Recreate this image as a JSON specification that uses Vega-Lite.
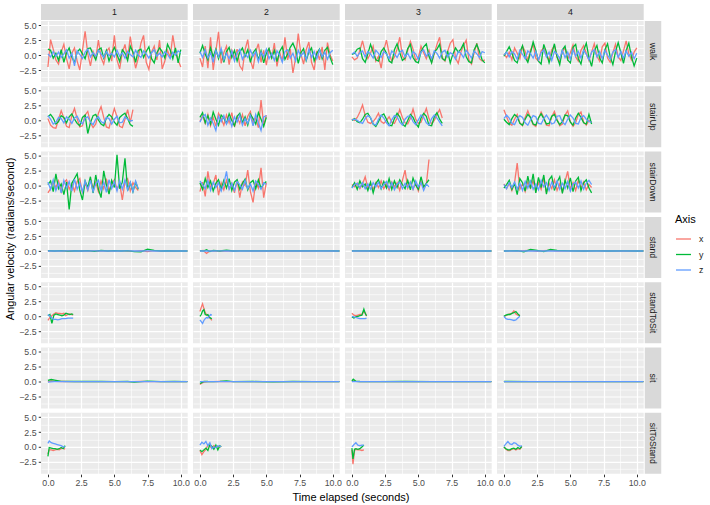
{
  "$schema": "https://vega.github.io/schema/vega-lite/v6.json",
  "padding": {"left": 4, "top": 4, "right": 8, "bottom": 5},
  "bounds": "flush",
  "data": {
    "values": [
      {"act":"walk","run":1,"t":0.0,"x":-2.0,"y":1.0,"z":0.2},
      {"act":"walk","run":1,"t":0.2,"x":2.6,"y":0.8,"z":-0.3},
      {"act":"walk","run":1,"t":0.4,"x":1.0,"y":-0.5,"z":0.6},
      {"act":"walk","run":1,"t":0.6,"x":-0.8,"y":0.3,"z":-0.2},
      {"act":"walk","run":1,"t":0.8,"x":-1.5,"y":-0.9,"z":0.5},
      {"act":"walk","run":1,"t":1.0,"x":0.5,"y":0.9,"z":-0.4},
      {"act":"walk","run":1,"t":1.2,"x":1.8,"y":-1.2,"z":0.2},
      {"act":"walk","run":1,"t":1.4,"x":-0.6,"y":0.4,"z":0.9},
      {"act":"walk","run":1,"t":1.6,"x":-2.3,"y":1.2,"z":-0.5},
      {"act":"walk","run":1,"t":1.8,"x":0.3,"y":-0.3,"z":0.3},
      {"act":"walk","run":1,"t":2.0,"x":1.2,"y":-1.3,"z":-1.8},
      {"act":"walk","run":1,"t":2.2,"x":-1.0,"y":0.5,"z":0.7},
      {"act":"walk","run":1,"t":2.4,"x":-2.5,"y":1.0,"z":0.1},
      {"act":"walk","run":1,"t":2.6,"x":0.8,"y":0.2,"z":-0.6},
      {"act":"walk","run":1,"t":2.8,"x":4.0,"y":-0.6,"z":0.5},
      {"act":"walk","run":1,"t":3.0,"x":0.2,"y":1.1,"z":1.0},
      {"act":"walk","run":1,"t":3.2,"x":-1.8,"y":1.2,"z":-0.3},
      {"act":"walk","run":1,"t":3.4,"x":0.6,"y":0.1,"z":0.4},
      {"act":"walk","run":1,"t":3.6,"x":-0.5,"y":-0.8,"z":-0.2},
      {"act":"walk","run":1,"t":3.8,"x":2.5,"y":0.9,"z":0.8},
      {"act":"walk","run":1,"t":4.0,"x":-0.4,"y":1.2,"z":0.2},
      {"act":"walk","run":1,"t":4.2,"x":-1.5,"y":-0.5,"z":-0.4},
      {"act":"walk","run":1,"t":4.4,"x":0.6,"y":0.8,"z":0.6},
      {"act":"walk","run":1,"t":4.6,"x":1.2,"y":-1.0,"z":-0.1},
      {"act":"walk","run":1,"t":4.8,"x":-1.0,"y":0.3,"z":0.3},
      {"act":"walk","run":1,"t":5.0,"x":3.3,"y":1.3,"z":-0.3},
      {"act":"walk","run":1,"t":5.2,"x":-0.8,"y":0.1,"z":0.8},
      {"act":"walk","run":1,"t":5.4,"x":-2.3,"y":-1.1,"z":-0.2},
      {"act":"walk","run":1,"t":5.6,"x":0.4,"y":0.9,"z":0.4},
      {"act":"walk","run":1,"t":5.8,"x":1.8,"y":0.3,"z":-0.5},
      {"act":"walk","run":1,"t":6.0,"x":-0.6,"y":-0.9,"z":0.6},
      {"act":"walk","run":1,"t":6.2,"x":3.1,"y":1.5,"z":0.1},
      {"act":"walk","run":1,"t":6.4,"x":0.2,"y":0.5,"z":-0.3},
      {"act":"walk","run":1,"t":6.6,"x":-2.2,"y":-1.2,"z":0.8},
      {"act":"walk","run":1,"t":6.8,"x":-0.5,"y":0.8,"z":0.0},
      {"act":"walk","run":1,"t":7.0,"x":2.0,"y":1.0,"z":-0.4},
      {"act":"walk","run":1,"t":7.2,"x":3.3,"y":-0.4,"z":0.7},
      {"act":"walk","run":1,"t":7.4,"x":-1.2,"y":0.6,"z":0.2},
      {"act":"walk","run":1,"t":7.6,"x":-2.4,"y":1.4,"z":-0.5},
      {"act":"walk","run":1,"t":7.8,"x":0.5,"y":-0.6,"z":0.4},
      {"act":"walk","run":1,"t":8.0,"x":1.5,"y":-1.3,"z":0.9},
      {"act":"walk","run":1,"t":8.2,"x":-0.8,"y":0.4,"z":-0.2},
      {"act":"walk","run":1,"t":8.4,"x":2.5,"y":1.2,"z":0.3},
      {"act":"walk","run":1,"t":8.6,"x":-2.3,"y":0.6,"z":-0.3},
      {"act":"walk","run":1,"t":8.8,"x":-1.0,"y":-0.5,"z":0.6},
      {"act":"walk","run":1,"t":9.0,"x":0.8,"y":1.8,"z":0.1},
      {"act":"walk","run":1,"t":9.2,"x":-0.4,"y":0.9,"z":-0.6},
      {"act":"walk","run":1,"t":9.4,"x":3.3,"y":-0.6,"z":0.5},
      {"act":"walk","run":1,"t":9.6,"x":0.6,"y":1.2,"z":0.0},
      {"act":"walk","run":1,"t":9.8,"x":-0.8,"y":-1.3,"z":0.7},
      {"act":"walk","run":1,"t":10.0,"x":-2.0,"y":0.9,"z":0.4},

      {"act":"walk","run":2,"t":0.0,"x":-0.5,"y":0.3,"z":0.6},
      {"act":"walk","run":2,"t":0.2,"x":-2.0,"y":1.6,"z":-0.4},
      {"act":"walk","run":2,"t":0.4,"x":1.5,"y":0.2,"z":0.9},
      {"act":"walk","run":2,"t":0.6,"x":-2.2,"y":-0.8,"z":-0.5},
      {"act":"walk","run":2,"t":0.8,"x":3.0,"y":1.2,"z":0.4},
      {"act":"walk","run":2,"t":1.0,"x":-2.5,"y":-0.3,"z":-1.2},
      {"act":"walk","run":2,"t":1.2,"x":0.6,"y":1.0,"z":0.8},
      {"act":"walk","run":2,"t":1.4,"x":3.9,"y":-0.6,"z":-0.3},
      {"act":"walk","run":2,"t":1.6,"x":-1.4,"y":0.9,"z":1.1},
      {"act":"walk","run":2,"t":1.8,"x":0.4,"y":-1.2,"z":-0.8},
      {"act":"walk","run":2,"t":2.0,"x":1.5,"y":0.6,"z":0.3},
      {"act":"walk","run":2,"t":2.2,"x":-1.6,"y":1.3,"z":-0.6},
      {"act":"walk","run":2,"t":2.4,"x":0.8,"y":-0.4,"z":0.7},
      {"act":"walk","run":2,"t":2.6,"x":-0.5,"y":0.8,"z":-1.0},
      {"act":"walk","run":2,"t":2.8,"x":1.0,"y":-1.0,"z":0.4},
      {"act":"walk","run":2,"t":3.0,"x":-1.8,"y":0.5,"z":1.0},
      {"act":"walk","run":2,"t":3.2,"x":-2.5,"y":1.2,"z":-0.7},
      {"act":"walk","run":2,"t":3.4,"x":0.9,"y":-0.2,"z":0.2},
      {"act":"walk","run":2,"t":3.6,"x":2.6,"y":0.9,"z":-0.4},
      {"act":"walk","run":2,"t":3.8,"x":-0.9,"y":-1.2,"z":0.8},
      {"act":"walk","run":2,"t":4.0,"x":-2.3,"y":0.4,"z":-0.2},
      {"act":"walk","run":2,"t":4.2,"x":0.6,"y":1.0,"z":0.6},
      {"act":"walk","run":2,"t":4.4,"x":1.9,"y":-0.8,"z":-1.1},
      {"act":"walk","run":2,"t":4.6,"x":-1.2,"y":0.7,"z":0.5},
      {"act":"walk","run":2,"t":4.8,"x":0.8,"y":-1.3,"z":-0.3},
      {"act":"walk","run":2,"t":5.0,"x":-1.7,"y":0.3,"z":1.0},
      {"act":"walk","run":2,"t":5.2,"x":1.2,"y":1.1,"z":-0.6},
      {"act":"walk","run":2,"t":5.4,"x":-0.6,"y":-0.5,"z":0.3},
      {"act":"walk","run":2,"t":5.6,"x":2.0,"y":0.8,"z":-0.9},
      {"act":"walk","run":2,"t":5.8,"x":-1.9,"y":-1.1,"z":0.7},
      {"act":"walk","run":2,"t":6.0,"x":0.5,"y":0.6,"z":0.0},
      {"act":"walk","run":2,"t":6.2,"x":-1.0,"y":1.4,"z":-1.2},
      {"act":"walk","run":2,"t":6.4,"x":3.0,"y":-0.7,"z":0.6},
      {"act":"walk","run":2,"t":6.6,"x":-0.8,"y":0.2,"z":0.9},
      {"act":"walk","run":2,"t":6.8,"x":1.0,"y":1.3,"z":-0.5},
      {"act":"walk","run":2,"t":7.0,"x":-3.0,"y":2.0,"z":0.3},
      {"act":"walk","run":2,"t":7.2,"x":-0.5,"y":0.9,"z":-1.0},
      {"act":"walk","run":2,"t":7.4,"x":3.6,"y":-1.4,"z":0.8},
      {"act":"walk","run":2,"t":7.6,"x":0.2,"y":0.4,"z":-0.2},
      {"act":"walk","run":2,"t":7.8,"x":-1.5,"y":1.1,"z":0.5},
      {"act":"walk","run":2,"t":8.0,"x":0.9,"y":-0.9,"z":-0.8},
      {"act":"walk","run":2,"t":8.2,"x":2.2,"y":0.5,"z":1.0},
      {"act":"walk","run":2,"t":8.4,"x":-1.2,"y":1.2,"z":-0.4},
      {"act":"walk","run":2,"t":8.6,"x":-2.5,"y":-1.0,"z":0.6},
      {"act":"walk","run":2,"t":8.8,"x":0.7,"y":0.3,"z":-0.6},
      {"act":"walk","run":2,"t":9.0,"x":-0.8,"y":1.0,"z":0.9},
      {"act":"walk","run":2,"t":9.2,"x":1.4,"y":-0.6,"z":-0.3},
      {"act":"walk","run":2,"t":9.4,"x":-2.5,"y":0.8,"z":0.5},
      {"act":"walk","run":2,"t":9.6,"x":2.1,"y":1.3,"z":-0.7},
      {"act":"walk","run":2,"t":9.8,"x":0.0,"y":-0.4,"z":0.4},
      {"act":"walk","run":2,"t":10.0,"x":-1.0,"y":-1.6,"z":0.8},

      {"act":"walk","run":3,"t":0.0,"x":-0.3,"y":0.1,"z":0.2},
      {"act":"walk","run":3,"t":0.2,"x":-0.8,"y":0.3,"z":0.5},
      {"act":"walk","run":3,"t":0.4,"x":-0.5,"y":1.0,"z":-0.2},
      {"act":"walk","run":3,"t":0.6,"x":0.8,"y":1.2,"z":0.4},
      {"act":"walk","run":3,"t":0.8,"x":2.4,"y":-0.6,"z":0.7},
      {"act":"walk","run":3,"t":1.0,"x":0.5,"y":-1.2,"z":-0.3},
      {"act":"walk","run":3,"t":1.2,"x":-0.6,"y":0.2,"z":0.6},
      {"act":"walk","run":3,"t":1.4,"x":0.3,"y":1.8,"z":0.2},
      {"act":"walk","run":3,"t":1.6,"x":1.5,"y":0.5,"z":-0.5},
      {"act":"walk","run":3,"t":1.8,"x":-1.0,"y":-0.8,"z":0.8},
      {"act":"walk","run":3,"t":2.0,"x":-0.2,"y":-1.0,"z":0.3},
      {"act":"walk","run":3,"t":2.2,"x":-2.2,"y":0.6,"z":-0.4},
      {"act":"walk","run":3,"t":2.4,"x":0.8,"y":1.2,"z":0.6},
      {"act":"walk","run":3,"t":2.6,"x":2.5,"y":0.3,"z":0.2},
      {"act":"walk","run":3,"t":2.8,"x":0.3,"y":-1.0,"z":-0.6},
      {"act":"walk","run":3,"t":3.0,"x":-1.0,"y":-1.3,"z":0.7},
      {"act":"walk","run":3,"t":3.2,"x":-0.3,"y":0.9,"z":0.2},
      {"act":"walk","run":3,"t":3.4,"x":1.0,"y":1.9,"z":-0.4},
      {"act":"walk","run":3,"t":3.6,"x":3.0,"y":0.4,"z":0.5},
      {"act":"walk","run":3,"t":3.8,"x":-0.2,"y":-0.9,"z":0.8},
      {"act":"walk","run":3,"t":4.0,"x":-0.8,"y":-0.5,"z":-0.3},
      {"act":"walk","run":3,"t":4.2,"x":0.8,"y":1.1,"z":0.3},
      {"act":"walk","run":3,"t":4.4,"x":2.3,"y":1.8,"z":-0.6},
      {"act":"walk","run":3,"t":4.6,"x":1.0,"y":-0.4,"z":0.6},
      {"act":"walk","run":3,"t":4.8,"x":-0.9,"y":-1.1,"z":0.2},
      {"act":"walk","run":3,"t":5.0,"x":-0.4,"y":-1.3,"z":-0.7},
      {"act":"walk","run":3,"t":5.2,"x":1.5,"y":0.6,"z":0.5},
      {"act":"walk","run":3,"t":5.4,"x":0.4,"y":1.4,"z":0.9},
      {"act":"walk","run":3,"t":5.6,"x":-0.6,"y":1.9,"z":-0.2},
      {"act":"walk","run":3,"t":5.8,"x":0.8,"y":-0.2,"z":0.4},
      {"act":"walk","run":3,"t":6.0,"x":-1.2,"y":-1.3,"z":-0.6},
      {"act":"walk","run":3,"t":6.2,"x":0.2,"y":0.5,"z":0.7},
      {"act":"walk","run":3,"t":6.4,"x":1.8,"y":1.0,"z":0.3},
      {"act":"walk","run":3,"t":6.6,"x":3.0,"y":1.8,"z":-0.5},
      {"act":"walk","run":3,"t":6.8,"x":-0.4,"y":-0.6,"z":0.5},
      {"act":"walk","run":3,"t":7.0,"x":-1.0,"y":-0.9,"z":0.8},
      {"act":"walk","run":3,"t":7.2,"x":0.6,"y":0.7,"z":-0.3},
      {"act":"walk","run":3,"t":7.4,"x":2.0,"y":-1.3,"z":0.4},
      {"act":"walk","run":3,"t":7.6,"x":2.6,"y":0.2,"z":0.1},
      {"act":"walk","run":3,"t":7.8,"x":-0.5,"y":1.2,"z":-0.7},
      {"act":"walk","run":3,"t":8.0,"x":-1.4,"y":0.5,"z":0.6},
      {"act":"walk","run":3,"t":8.2,"x":0.5,"y":1.0,"z":0.3},
      {"act":"walk","run":3,"t":8.4,"x":1.6,"y":1.9,"z":-0.4},
      {"act":"walk","run":3,"t":8.6,"x":2.5,"y":-0.3,"z":0.8},
      {"act":"walk","run":3,"t":8.8,"x":-0.8,"y":-1.1,"z":0.2},
      {"act":"walk","run":3,"t":9.0,"x":-1.5,"y":-1.3,"z":-0.5},
      {"act":"walk","run":3,"t":9.2,"x":0.4,"y":0.9,"z":0.7},
      {"act":"walk","run":3,"t":9.4,"x":2.0,"y":1.8,"z":0.2},
      {"act":"walk","run":3,"t":9.6,"x":-0.6,"y":0.6,"z":-0.4},
      {"act":"walk","run":3,"t":9.8,"x":-1.0,"y":-0.8,"z":0.6},
      {"act":"walk","run":3,"t":10.0,"x":-0.8,"y":-1.3,"z":0.4},

      {"act":"walk","run":4,"t":0.0,"x":0.2,"y":-0.2,"z":0.0},
      {"act":"walk","run":4,"t":0.2,"x":-0.4,"y":0.6,"z":0.5},
      {"act":"walk","run":4,"t":0.4,"x":0.5,"y":1.4,"z":-0.3},
      {"act":"walk","run":4,"t":0.6,"x":-0.8,"y":0.3,"z":0.6},
      {"act":"walk","run":4,"t":0.8,"x":1.2,"y":-0.9,"z":0.2},
      {"act":"walk","run":4,"t":1.0,"x":0.3,"y":-1.3,"z":-0.7},
      {"act":"walk","run":4,"t":1.2,"x":-0.6,"y":0.5,"z":0.8},
      {"act":"walk","run":4,"t":1.4,"x":1.5,"y":1.6,"z":0.1},
      {"act":"walk","run":4,"t":1.6,"x":0.6,"y":-0.4,"z":-0.6},
      {"act":"walk","run":4,"t":1.8,"x":-0.9,"y":-1.2,"z":0.7},
      {"act":"walk","run":4,"t":2.0,"x":0.8,"y":0.4,"z":0.3},
      {"act":"walk","run":4,"t":2.2,"x":1.8,"y":2.2,"z":-0.5},
      {"act":"walk","run":4,"t":2.4,"x":-0.5,"y":0.8,"z":0.6},
      {"act":"walk","run":4,"t":2.6,"x":-1.0,"y":-1.0,"z":-0.8},
      {"act":"walk","run":4,"t":2.8,"x":0.7,"y":-1.5,"z":0.4},
      {"act":"walk","run":4,"t":3.0,"x":1.3,"y":1.8,"z":0.9},
      {"act":"walk","run":4,"t":3.2,"x":-0.2,"y":0.5,"z":-0.3},
      {"act":"walk","run":4,"t":3.4,"x":-0.9,"y":-1.3,"z":0.5},
      {"act":"walk","run":4,"t":3.6,"x":0.9,"y":0.2,"z":-0.9},
      {"act":"walk","run":4,"t":3.8,"x":1.6,"y":1.9,"z":0.6},
      {"act":"walk","run":4,"t":4.0,"x":-0.4,"y":-0.3,"z":0.2},
      {"act":"walk","run":4,"t":4.2,"x":-1.1,"y":-1.6,"z":-0.6},
      {"act":"walk","run":4,"t":4.4,"x":0.6,"y":0.9,"z":0.8},
      {"act":"walk","run":4,"t":4.6,"x":1.2,"y":1.5,"z":-0.4},
      {"act":"walk","run":4,"t":4.8,"x":-0.7,"y":-0.8,"z":0.5},
      {"act":"walk","run":4,"t":5.0,"x":0.4,"y":-1.3,"z":-0.7},
      {"act":"walk","run":4,"t":5.2,"x":1.7,"y":1.3,"z":0.9},
      {"act":"walk","run":4,"t":5.4,"x":-0.3,"y":1.8,"z":-0.2},
      {"act":"walk","run":4,"t":5.6,"x":-1.0,"y":-0.6,"z":0.6},
      {"act":"walk","run":4,"t":5.8,"x":0.8,"y":-1.5,"z":-0.5},
      {"act":"walk","run":4,"t":6.0,"x":1.6,"y":0.8,"z":0.8},
      {"act":"walk","run":4,"t":6.2,"x":0.3,"y":2.0,"z":0.1},
      {"act":"walk","run":4,"t":6.4,"x":-0.9,"y":-0.4,"z":-0.8},
      {"act":"walk","run":4,"t":6.6,"x":0.5,"y":-1.9,"z":0.5},
      {"act":"walk","run":4,"t":6.8,"x":1.9,"y":0.7,"z":0.9},
      {"act":"walk","run":4,"t":7.0,"x":-0.2,"y":1.6,"z":-0.3},
      {"act":"walk","run":4,"t":7.2,"x":-1.0,"y":-0.5,"z":0.6},
      {"act":"walk","run":4,"t":7.4,"x":1.4,"y":-1.3,"z":-0.6},
      {"act":"walk","run":4,"t":7.6,"x":2.0,"y":0.9,"z":0.8},
      {"act":"walk","run":4,"t":7.8,"x":-0.5,"y":1.9,"z":0.0},
      {"act":"walk","run":4,"t":8.0,"x":-1.2,"y":-0.3,"z":-0.7},
      {"act":"walk","run":4,"t":8.2,"x":0.4,"y":-1.6,"z":0.5},
      {"act":"walk","run":4,"t":8.4,"x":1.8,"y":0.6,"z":0.9},
      {"act":"walk","run":4,"t":8.6,"x":-0.3,"y":2.1,"z":-0.4},
      {"act":"walk","run":4,"t":8.8,"x":-0.9,"y":0.4,"z":0.6},
      {"act":"walk","run":4,"t":9.0,"x":0.7,"y":-1.4,"z":-0.5},
      {"act":"walk","run":4,"t":9.2,"x":2.4,"y":0.8,"z":0.7},
      {"act":"walk","run":4,"t":9.4,"x":0.2,"y":2.0,"z":-0.2},
      {"act":"walk","run":4,"t":9.6,"x":-0.8,"y":-0.3,"z":0.5},
      {"act":"walk","run":4,"t":9.8,"x":0.5,"y":-1.8,"z":-0.6},
      {"act":"walk","run":4,"t":10.0,"x":1.2,"y":-0.5,"z":0.3},

      {"act":"stairUp","run":1,"t":0.0,"x":0.3,"y":0.6,"z":0.8},
      {"act":"stairUp","run":1,"t":0.2,"x":-0.8,"y":1.0,"z":0.2},
      {"act":"stairUp","run":1,"t":0.4,"x":-1.2,"y":0.4,"z":-0.6},
      {"act":"stairUp","run":1,"t":0.6,"x":-1.3,"y":-0.6,"z":-0.3},
      {"act":"stairUp","run":1,"t":0.8,"x":0.2,"y":-0.2,"z":0.5},
      {"act":"stairUp","run":1,"t":1.0,"x":1.6,"y":0.8,"z":0.3},
      {"act":"stairUp","run":1,"t":1.2,"x":0.4,"y":0.5,"z":-0.4},
      {"act":"stairUp","run":1,"t":1.4,"x":-1.0,"y":-0.4,"z":0.6},
      {"act":"stairUp","run":1,"t":1.6,"x":-1.2,"y":0.6,"z":0.2},
      {"act":"stairUp","run":1,"t":1.8,"x":0.8,"y":1.1,"z":-0.5},
      {"act":"stairUp","run":1,"t":2.0,"x":2.0,"y":0.2,"z":0.4},
      {"act":"stairUp","run":1,"t":2.2,"x":0.3,"y":-0.5,"z":0.7},
      {"act":"stairUp","run":1,"t":2.4,"x":-1.1,"y":-0.9,"z":-0.2},
      {"act":"stairUp","run":1,"t":2.6,"x":-0.9,"y":0.5,"z":-0.6},
      {"act":"stairUp","run":1,"t":2.8,"x":0.9,"y":0.9,"z":0.4},
      {"act":"stairUp","run":1,"t":3.0,"x":1.5,"y":-2.2,"z":0.6},
      {"act":"stairUp","run":1,"t":3.2,"x":-0.4,"y":-0.4,"z":-0.3},
      {"act":"stairUp","run":1,"t":3.4,"x":-1.2,"y":0.8,"z":-0.7},
      {"act":"stairUp","run":1,"t":3.6,"x":-0.6,"y":1.0,"z":0.2},
      {"act":"stairUp","run":1,"t":3.8,"x":1.2,"y":0.1,"z":0.6},
      {"act":"stairUp","run":1,"t":4.0,"x":2.3,"y":-0.6,"z":-0.2},
      {"act":"stairUp","run":1,"t":4.2,"x":0.5,"y":-0.9,"z":-0.5},
      {"act":"stairUp","run":1,"t":4.4,"x":-1.1,"y":0.4,"z":0.5},
      {"act":"stairUp","run":1,"t":4.6,"x":-1.3,"y":1.0,"z":0.3},
      {"act":"stairUp","run":1,"t":4.8,"x":0.4,"y":0.6,"z":-0.6},
      {"act":"stairUp","run":1,"t":5.0,"x":2.0,"y":-0.3,"z":0.2},
      {"act":"stairUp","run":1,"t":5.2,"x":0.6,"y":-0.8,"z":0.7},
      {"act":"stairUp","run":1,"t":5.4,"x":-1.0,"y":0.5,"z":-0.4},
      {"act":"stairUp","run":1,"t":5.6,"x":-1.2,"y":0.9,"z":-0.3},
      {"act":"stairUp","run":1,"t":5.8,"x":0.2,"y":1.2,"z":0.6},
      {"act":"stairUp","run":1,"t":6.0,"x":1.8,"y":0.3,"z":0.2},
      {"act":"stairUp","run":1,"t":6.2,"x":-0.3,"y":-0.7,"z":-0.1},
      {"act":"stairUp","run":1,"t":6.4,"x":1.8,"y":-1.0,"z":0.0},

      {"act":"stairUp","run":2,"t":0.0,"x":-0.2,"y":0.5,"z":-0.3},
      {"act":"stairUp","run":2,"t":0.2,"x":0.8,"y":1.3,"z":0.6},
      {"act":"stairUp","run":2,"t":0.4,"x":-0.5,"y":-0.4,"z":1.0},
      {"act":"stairUp","run":2,"t":0.6,"x":1.0,"y":0.8,"z":-0.8},
      {"act":"stairUp","run":2,"t":0.8,"x":-0.9,"y":-0.6,"z":0.4},
      {"act":"stairUp","run":2,"t":1.0,"x":0.5,"y":1.4,"z":-0.5},
      {"act":"stairUp","run":2,"t":1.2,"x":-1.0,"y":0.2,"z":-1.7},
      {"act":"stairUp","run":2,"t":1.4,"x":1.2,"y":-0.8,"z":0.7},
      {"act":"stairUp","run":2,"t":1.6,"x":0.3,"y":0.9,"z":-0.2},
      {"act":"stairUp","run":2,"t":1.8,"x":-0.8,"y":0.4,"z":0.8},
      {"act":"stairUp","run":2,"t":2.0,"x":0.9,"y":-0.5,"z":-0.6},
      {"act":"stairUp","run":2,"t":2.2,"x":-0.4,"y":1.1,"z":0.5},
      {"act":"stairUp","run":2,"t":2.4,"x":1.3,"y":0.0,"z":-1.0},
      {"act":"stairUp","run":2,"t":2.6,"x":-1.1,"y":-0.9,"z":0.6},
      {"act":"stairUp","run":2,"t":2.8,"x":0.6,"y":0.7,"z":-0.3},
      {"act":"stairUp","run":2,"t":3.0,"x":-0.5,"y":1.2,"z":0.9},
      {"act":"stairUp","run":2,"t":3.2,"x":1.0,"y":-0.4,"z":-0.8},
      {"act":"stairUp","run":2,"t":3.4,"x":-0.9,"y":0.6,"z":0.3},
      {"act":"stairUp","run":2,"t":3.6,"x":0.7,"y":-0.8,"z":-0.5},
      {"act":"stairUp","run":2,"t":3.8,"x":1.5,"y":1.0,"z":0.8},
      {"act":"stairUp","run":2,"t":4.0,"x":-0.6,"y":0.3,"z":-0.9},
      {"act":"stairUp","run":2,"t":4.2,"x":0.4,"y":-0.6,"z":1.0},
      {"act":"stairUp","run":2,"t":4.4,"x":-1.2,"y":1.3,"z":-0.4},
      {"act":"stairUp","run":2,"t":4.6,"x":3.4,"y":0.2,"z":-1.7},
      {"act":"stairUp","run":2,"t":4.8,"x":-0.8,"y":-1.0,"z":0.6},
      {"act":"stairUp","run":2,"t":5.0,"x":0.9,"y":0.5,"z":0.8},

      {"act":"stairUp","run":3,"t":0.0,"x":0.2,"y":0.0,"z":0.1},
      {"act":"stairUp","run":3,"t":0.2,"x":0.0,"y":0.3,"z":0.2},
      {"act":"stairUp","run":3,"t":0.4,"x":0.5,"y":-0.2,"z":0.0},
      {"act":"stairUp","run":3,"t":0.6,"x":1.4,"y":-0.4,"z":-0.3},
      {"act":"stairUp","run":3,"t":0.8,"x":2.6,"y":0.2,"z":-0.5},
      {"act":"stairUp","run":3,"t":1.0,"x":0.8,"y":1.0,"z":0.3},
      {"act":"stairUp","run":3,"t":1.2,"x":-0.3,"y":1.2,"z":0.8},
      {"act":"stairUp","run":3,"t":1.4,"x":-0.5,"y":0.4,"z":0.5},
      {"act":"stairUp","run":3,"t":1.6,"x":-0.2,"y":-0.6,"z":-0.6},
      {"act":"stairUp","run":3,"t":1.8,"x":0.4,"y":-1.0,"z":-0.8},
      {"act":"stairUp","run":3,"t":2.0,"x":1.2,"y":-0.2,"z":0.2},
      {"act":"stairUp","run":3,"t":2.2,"x":-0.2,"y":0.8,"z":0.9},
      {"act":"stairUp","run":3,"t":2.4,"x":-0.5,"y":1.1,"z":0.4},
      {"act":"stairUp","run":3,"t":2.6,"x":0.0,"y":0.2,"z":-0.4},
      {"act":"stairUp","run":3,"t":2.8,"x":0.6,"y":-0.8,"z":-0.9},
      {"act":"stairUp","run":3,"t":3.0,"x":-0.3,"y":-0.9,"z":0.1},
      {"act":"stairUp","run":3,"t":3.2,"x":-0.5,"y":0.3,"z":0.8},
      {"act":"stairUp","run":3,"t":3.4,"x":0.4,"y":1.2,"z":0.6},
      {"act":"stairUp","run":3,"t":3.6,"x":1.8,"y":0.6,"z":-0.3},
      {"act":"stairUp","run":3,"t":3.8,"x":0.5,"y":-0.6,"z":-0.8},
      {"act":"stairUp","run":3,"t":4.0,"x":-0.4,"y":-1.0,"z":0.2},
      {"act":"stairUp","run":3,"t":4.2,"x":-0.6,"y":0.0,"z":0.7},
      {"act":"stairUp","run":3,"t":4.4,"x":0.3,"y":1.0,"z":0.8},
      {"act":"stairUp","run":3,"t":4.6,"x":1.9,"y":0.5,"z":-0.2},
      {"act":"stairUp","run":3,"t":4.8,"x":0.2,"y":-0.5,"z":-0.7},
      {"act":"stairUp","run":3,"t":5.0,"x":-0.5,"y":-1.1,"z":0.1},
      {"act":"stairUp","run":3,"t":5.2,"x":-0.3,"y":0.4,"z":0.9},
      {"act":"stairUp","run":3,"t":5.4,"x":0.8,"y":1.2,"z":0.5},
      {"act":"stairUp","run":3,"t":5.6,"x":2.0,"y":0.7,"z":-0.4},
      {"act":"stairUp","run":3,"t":5.8,"x":0.3,"y":-0.8,"z":-0.8},
      {"act":"stairUp","run":3,"t":6.0,"x":-0.6,"y":-0.9,"z":0.3},
      {"act":"stairUp","run":3,"t":6.2,"x":0.0,"y":0.6,"z":0.9},
      {"act":"stairUp","run":3,"t":6.4,"x":1.0,"y":1.3,"z":0.4},
      {"act":"stairUp","run":3,"t":6.6,"x":1.8,"y":0.2,"z":-0.3},
      {"act":"stairUp","run":3,"t":6.8,"x":0.4,"y":-0.5,"z":-0.9},

      {"act":"stairUp","run":4,"t":0.0,"x":1.8,"y":0.2,"z":0.3},
      {"act":"stairUp","run":4,"t":0.2,"x":0.6,"y":-0.3,"z":0.9},
      {"act":"stairUp","run":4,"t":0.4,"x":-0.5,"y":-0.7,"z":0.4},
      {"act":"stairUp","run":4,"t":0.6,"x":-0.8,"y":0.3,"z":-0.5},
      {"act":"stairUp","run":4,"t":0.8,"x":0.2,"y":1.0,"z":-0.7},
      {"act":"stairUp","run":4,"t":1.0,"x":1.0,"y":0.6,"z":0.2},
      {"act":"stairUp","run":4,"t":1.2,"x":-0.4,"y":-0.5,"z":0.8},
      {"act":"stairUp","run":4,"t":1.4,"x":-0.9,"y":-0.8,"z":0.5},
      {"act":"stairUp","run":4,"t":1.6,"x":0.5,"y":0.2,"z":-0.4},
      {"act":"stairUp","run":4,"t":1.8,"x":1.6,"y":1.0,"z":-0.8},
      {"act":"stairUp","run":4,"t":2.0,"x":0.4,"y":0.5,"z":0.1},
      {"act":"stairUp","run":4,"t":2.2,"x":-0.7,"y":-0.6,"z":0.8},
      {"act":"stairUp","run":4,"t":2.4,"x":-1.0,"y":-0.8,"z":0.6},
      {"act":"stairUp","run":4,"t":2.6,"x":0.3,"y":0.4,"z":-0.5},
      {"act":"stairUp","run":4,"t":2.8,"x":1.4,"y":1.1,"z":-0.6},
      {"act":"stairUp","run":4,"t":3.0,"x":0.5,"y":0.3,"z":0.3},
      {"act":"stairUp","run":4,"t":3.2,"x":-0.8,"y":-0.6,"z":0.9},
      {"act":"stairUp","run":4,"t":3.4,"x":-0.9,"y":-0.5,"z":0.2},
      {"act":"stairUp","run":4,"t":3.6,"x":0.6,"y":0.7,"z":-0.6},
      {"act":"stairUp","run":4,"t":3.8,"x":1.5,"y":1.0,"z":-0.4},
      {"act":"stairUp","run":4,"t":4.0,"x":0.2,"y":0.0,"z":0.7},
      {"act":"stairUp","run":4,"t":4.2,"x":-0.9,"y":-0.7,"z":0.8},
      {"act":"stairUp","run":4,"t":4.4,"x":-0.6,"y":-0.2,"z":-0.3},
      {"act":"stairUp","run":4,"t":4.6,"x":0.9,"y":0.9,"z":-0.7},
      {"act":"stairUp","run":4,"t":4.8,"x":1.6,"y":0.8,"z":0.2},
      {"act":"stairUp","run":4,"t":5.0,"x":-0.2,"y":-0.3,"z":0.9},
      {"act":"stairUp","run":4,"t":5.2,"x":-1.0,"y":-0.8,"z":0.4},
      {"act":"stairUp","run":4,"t":5.4,"x":-0.4,"y":0.4,"z":-0.5},
      {"act":"stairUp","run":4,"t":5.6,"x":1.0,"y":1.2,"z":-0.6},
      {"act":"stairUp","run":4,"t":5.8,"x":1.4,"y":0.5,"z":0.5},
      {"act":"stairUp","run":4,"t":6.0,"x":-0.3,"y":-0.4,"z":0.8},
      {"act":"stairUp","run":4,"t":6.2,"x":-0.8,"y":-0.6,"z":0.2},
      {"act":"stairUp","run":4,"t":6.4,"x":0.0,"y":1.0,"z":-0.2},
      {"act":"stairUp","run":4,"t":6.6,"x":-0.3,"y":-0.6,"z":-0.3},

      {"act":"stairDown","run":1,"t":0.0,"x":-1.2,"y":0.2,"z":0.6},
      {"act":"stairDown","run":1,"t":0.2,"x":-0.5,"y":0.8,"z":-0.6},
      {"act":"stairDown","run":1,"t":0.4,"x":0.6,"y":-1.0,"z":1.0},
      {"act":"stairDown","run":1,"t":0.6,"x":-0.3,"y":2.0,"z":-0.8},
      {"act":"stairDown","run":1,"t":0.8,"x":0.8,"y":-0.5,"z":0.4},
      {"act":"stairDown","run":1,"t":1.0,"x":-1.0,"y":0.3,"z":-1.2},
      {"act":"stairDown","run":1,"t":1.2,"x":0.5,"y":-1.5,"z":0.9},
      {"act":"stairDown","run":1,"t":1.4,"x":1.0,"y":0.6,"z":-0.4},
      {"act":"stairDown","run":1,"t":1.6,"x":-0.6,"y":-4.0,"z":0.7},
      {"act":"stairDown","run":1,"t":1.8,"x":0.3,"y":0.4,"z":-0.9},
      {"act":"stairDown","run":1,"t":2.0,"x":-0.9,"y":1.2,"z":1.1},
      {"act":"stairDown","run":1,"t":2.2,"x":0.7,"y":2.0,"z":-0.6},
      {"act":"stairDown","run":1,"t":2.4,"x":1.2,"y":-0.8,"z":0.5},
      {"act":"stairDown","run":1,"t":2.6,"x":-1.3,"y":-2.4,"z":-1.0},
      {"act":"stairDown","run":1,"t":2.8,"x":0.4,"y":0.8,"z":0.8},
      {"act":"stairDown","run":1,"t":3.0,"x":-0.8,"y":-0.3,"z":-0.7},
      {"act":"stairDown","run":1,"t":3.2,"x":1.1,"y":1.5,"z":0.9},
      {"act":"stairDown","run":1,"t":3.4,"x":-0.4,"y":-1.2,"z":-1.0},
      {"act":"stairDown","run":1,"t":3.6,"x":0.6,"y":1.8,"z":0.3},
      {"act":"stairDown","run":1,"t":3.8,"x":-1.0,"y":-0.6,"z":0.9},
      {"act":"stairDown","run":1,"t":4.0,"x":0.8,"y":-2.0,"z":-0.8},
      {"act":"stairDown","run":1,"t":4.2,"x":-0.5,"y":2.5,"z":0.6},
      {"act":"stairDown","run":1,"t":4.4,"x":1.2,"y":0.2,"z":-1.1},
      {"act":"stairDown","run":1,"t":4.6,"x":-0.9,"y":-1.4,"z":1.0},
      {"act":"stairDown","run":1,"t":4.8,"x":0.3,"y":0.9,"z":-0.5},
      {"act":"stairDown","run":1,"t":5.0,"x":1.0,"y":-0.3,"z":0.7},
      {"act":"stairDown","run":1,"t":5.2,"x":-0.6,"y":5.2,"z":-0.9},
      {"act":"stairDown","run":1,"t":5.4,"x":0.4,"y":-0.5,"z":0.8},
      {"act":"stairDown","run":1,"t":5.6,"x":-2.4,"y":0.6,"z":-0.6},
      {"act":"stairDown","run":1,"t":5.8,"x":0.7,"y":4.6,"z":1.0},
      {"act":"stairDown","run":1,"t":6.0,"x":1.2,"y":-0.8,"z":-0.7},
      {"act":"stairDown","run":1,"t":6.2,"x":-0.9,"y":0.5,"z":0.6},
      {"act":"stairDown","run":1,"t":6.4,"x":0.5,"y":-1.0,"z":-1.0},
      {"act":"stairDown","run":1,"t":6.6,"x":-0.3,"y":0.6,"z":0.8},
      {"act":"stairDown","run":1,"t":6.8,"x":-0.8,"y":-0.6,"z":-0.5},

      {"act":"stairDown","run":2,"t":0.0,"x":-1.0,"y":0.5,"z":0.8},
      {"act":"stairDown","run":2,"t":0.2,"x":0.6,"y":-0.6,"z":0.2},
      {"act":"stairDown","run":2,"t":0.4,"x":-1.8,"y":1.2,"z":-0.5},
      {"act":"stairDown","run":2,"t":0.6,"x":2.4,"y":-0.3,"z":0.9},
      {"act":"stairDown","run":2,"t":0.8,"x":-0.4,"y":0.8,"z":-0.8},
      {"act":"stairDown","run":2,"t":1.0,"x":0.3,"y":-0.9,"z":0.6},
      {"act":"stairDown","run":2,"t":1.2,"x":1.8,"y":0.4,"z":-0.3},
      {"act":"stairDown","run":2,"t":1.4,"x":-1.6,"y":1.0,"z":0.5},
      {"act":"stairDown","run":2,"t":1.6,"x":0.5,"y":-0.6,"z":-0.9},
      {"act":"stairDown","run":2,"t":1.8,"x":-0.7,"y":0.9,"z":0.3},
      {"act":"stairDown","run":2,"t":2.0,"x":0.9,"y":-0.4,"z":2.4},
      {"act":"stairDown","run":2,"t":2.2,"x":-0.5,"y":1.2,"z":-0.6},
      {"act":"stairDown","run":2,"t":2.4,"x":0.4,"y":-0.8,"z":0.4},
      {"act":"stairDown","run":2,"t":2.6,"x":-1.2,"y":0.6,"z":-0.8},
      {"act":"stairDown","run":2,"t":2.8,"x":1.0,"y":1.0,"z":0.7},
      {"act":"stairDown","run":2,"t":3.0,"x":-2.0,"y":-0.6,"z":0.2},
      {"act":"stairDown","run":2,"t":3.2,"x":0.6,"y":0.4,"z":-0.6},
      {"act":"stairDown","run":2,"t":3.4,"x":0.0,"y":1.1,"z":0.9},
      {"act":"stairDown","run":2,"t":3.6,"x":2.6,"y":-0.7,"z":-0.5},
      {"act":"stairDown","run":2,"t":3.8,"x":-1.0,"y":0.5,"z":0.3},
      {"act":"stairDown","run":2,"t":4.0,"x":-2.8,"y":0.9,"z":-0.9},
      {"act":"stairDown","run":2,"t":4.2,"x":0.6,"y":-0.5,"z":0.8},
      {"act":"stairDown","run":2,"t":4.4,"x":-0.4,"y":1.0,"z":0.2},
      {"act":"stairDown","run":2,"t":4.6,"x":3.0,"y":-0.4,"z":-0.6},
      {"act":"stairDown","run":2,"t":4.8,"x":-2.0,"y":0.3,"z":0.5},
      {"act":"stairDown","run":2,"t":5.0,"x":0.5,"y":0.7,"z":0.2},

      {"act":"stairDown","run":3,"t":0.0,"x":0.2,"y":-0.3,"z":-0.4},
      {"act":"stairDown","run":3,"t":0.2,"x":-0.2,"y":0.5,"z":0.2},
      {"act":"stairDown","run":3,"t":0.4,"x":0.4,"y":-0.6,"z":0.4},
      {"act":"stairDown","run":3,"t":0.6,"x":-0.5,"y":0.8,"z":-0.3},
      {"act":"stairDown","run":3,"t":0.8,"x":0.3,"y":-0.2,"z":0.5},
      {"act":"stairDown","run":3,"t":1.0,"x":1.5,"y":0.3,"z":-0.5},
      {"act":"stairDown","run":3,"t":1.2,"x":-0.4,"y":-0.8,"z":0.3},
      {"act":"stairDown","run":3,"t":1.4,"x":0.2,"y":0.6,"z":-0.6},
      {"act":"stairDown","run":3,"t":1.6,"x":-0.6,"y":-1.2,"z":0.5},
      {"act":"stairDown","run":3,"t":1.8,"x":0.5,"y":0.4,"z":-0.2},
      {"act":"stairDown","run":3,"t":2.0,"x":-0.3,"y":1.0,"z":0.6},
      {"act":"stairDown","run":3,"t":2.2,"x":0.8,"y":-0.5,"z":-0.5},
      {"act":"stairDown","run":3,"t":2.4,"x":-0.5,"y":0.7,"z":0.2},
      {"act":"stairDown","run":3,"t":2.6,"x":0.3,"y":-0.4,"z":0.7},
      {"act":"stairDown","run":3,"t":2.8,"x":-0.7,"y":1.2,"z":-0.4},
      {"act":"stairDown","run":3,"t":3.0,"x":0.6,"y":-0.6,"z":0.5},
      {"act":"stairDown","run":3,"t":3.2,"x":-0.2,"y":0.8,"z":-0.7},
      {"act":"stairDown","run":3,"t":3.4,"x":0.5,"y":-0.3,"z":0.3},
      {"act":"stairDown","run":3,"t":3.6,"x":-0.8,"y":1.0,"z":0.6},
      {"act":"stairDown","run":3,"t":3.8,"x":0.9,"y":0.2,"z":-0.5},
      {"act":"stairDown","run":3,"t":4.0,"x":2.6,"y":-0.5,"z":0.4},
      {"act":"stairDown","run":3,"t":4.2,"x":-0.4,"y":0.9,"z":-0.3},
      {"act":"stairDown","run":3,"t":4.4,"x":0.6,"y":-0.7,"z":0.6},
      {"act":"stairDown","run":3,"t":4.6,"x":-0.6,"y":1.3,"z":-0.6},
      {"act":"stairDown","run":3,"t":4.8,"x":0.4,"y":0.1,"z":0.8},
      {"act":"stairDown","run":3,"t":5.0,"x":-0.9,"y":-0.6,"z":-0.2},
      {"act":"stairDown","run":3,"t":5.2,"x":0.7,"y":1.5,"z":0.5},
      {"act":"stairDown","run":3,"t":5.4,"x":-0.3,"y":-0.2,"z":-0.8},
      {"act":"stairDown","run":3,"t":5.6,"x":0.2,"y":0.4,"z":0.3},
      {"act":"stairDown","run":3,"t":5.8,"x":4.4,"y":1.0,"z":-0.2},

      {"act":"stairDown","run":4,"t":0.0,"x":0.3,"y":-0.4,"z":0.2},
      {"act":"stairDown","run":4,"t":0.2,"x":-0.5,"y":0.2,"z":-0.5},
      {"act":"stairDown","run":4,"t":0.4,"x":0.4,"y":0.9,"z":0.5},
      {"act":"stairDown","run":4,"t":0.6,"x":-0.8,"y":-0.6,"z":-0.3},
      {"act":"stairDown","run":4,"t":0.8,"x":0.5,"y":0.4,"z":0.6},
      {"act":"stairDown","run":4,"t":1.0,"x":3.8,"y":-1.5,"z":-0.6},
      {"act":"stairDown","run":4,"t":1.2,"x":-0.6,"y":1.2,"z":0.4},
      {"act":"stairDown","run":4,"t":1.4,"x":0.3,"y":0.5,"z":-0.8},
      {"act":"stairDown","run":4,"t":1.6,"x":-1.0,"y":-0.9,"z":0.7},
      {"act":"stairDown","run":4,"t":1.8,"x":0.6,"y":1.6,"z":-0.4},
      {"act":"stairDown","run":4,"t":2.0,"x":-0.4,"y":-0.5,"z":0.8},
      {"act":"stairDown","run":4,"t":2.2,"x":0.8,"y":2.0,"z":-0.6},
      {"act":"stairDown","run":4,"t":2.4,"x":-0.9,"y":-1.2,"z":0.3},
      {"act":"stairDown","run":4,"t":2.6,"x":0.5,"y":1.4,"z":-0.7},
      {"act":"stairDown","run":4,"t":2.8,"x":-0.6,"y":-0.3,"z":0.9},
      {"act":"stairDown","run":4,"t":3.0,"x":1.2,"y":1.8,"z":-0.2},
      {"act":"stairDown","run":4,"t":3.2,"x":-1.1,"y":-1.4,"z":0.5},
      {"act":"stairDown","run":4,"t":3.4,"x":0.4,"y":1.0,"z":-0.8},
      {"act":"stairDown","run":4,"t":3.6,"x":-0.5,"y":1.6,"z":0.6},
      {"act":"stairDown","run":4,"t":3.8,"x":1.0,"y":-0.8,"z":-0.3},
      {"act":"stairDown","run":4,"t":4.0,"x":-0.8,"y":0.6,"z":0.8},
      {"act":"stairDown","run":4,"t":4.2,"x":0.3,"y":1.5,"z":-0.6},
      {"act":"stairDown","run":4,"t":4.4,"x":-1.0,"y":-1.3,"z":0.4},
      {"act":"stairDown","run":4,"t":4.6,"x":0.7,"y":0.9,"z":-0.5},
      {"act":"stairDown","run":4,"t":4.8,"x":2.4,"y":-0.4,"z":0.7},
      {"act":"stairDown","run":4,"t":5.0,"x":-0.6,"y":1.3,"z":-0.9},
      {"act":"stairDown","run":4,"t":5.2,"x":0.5,"y":-1.0,"z":0.3},
      {"act":"stairDown","run":4,"t":5.4,"x":-0.8,"y":0.8,"z":0.6},
      {"act":"stairDown","run":4,"t":5.6,"x":0.9,"y":1.4,"z":-0.4},
      {"act":"stairDown","run":4,"t":5.8,"x":-0.4,"y":-0.8,"z":0.8},
      {"act":"stairDown","run":4,"t":6.0,"x":0.6,"y":0.5,"z":-0.6},
      {"act":"stairDown","run":4,"t":6.2,"x":-0.7,"y":1.0,"z":0.4},
      {"act":"stairDown","run":4,"t":6.4,"x":0.2,"y":-0.4,"z":0.9},
      {"act":"stairDown","run":4,"t":6.6,"x":-0.3,"y":-1.2,"z":0.2},

      {"act":"stand","run":1,"t":0.0,"x":0.0,"y":0.05,"z":0.0},
      {"act":"stand","run":1,"t":0.5,"x":0.02,"y":0.0,"z":0.0},
      {"act":"stand","run":1,"t":1.0,"x":0.0,"y":0.05,"z":0.0},
      {"act":"stand","run":1,"t":1.5,"x":0.0,"y":-0.03,"z":0.01},
      {"act":"stand","run":1,"t":2.0,"x":0.02,"y":0.04,"z":0.0},
      {"act":"stand","run":1,"t":2.5,"x":0.0,"y":0.0,"z":0.0},
      {"act":"stand","run":1,"t":3.0,"x":0.03,"y":0.06,"z":0.0},
      {"act":"stand","run":1,"t":3.5,"x":0.0,"y":-0.05,"z":0.01},
      {"act":"stand","run":1,"t":4.0,"x":0.0,"y":0.1,"z":0.0},
      {"act":"stand","run":1,"t":4.5,"x":0.02,"y":0.0,"z":0.0},
      {"act":"stand","run":1,"t":5.0,"x":0.0,"y":0.08,"z":0.0},
      {"act":"stand","run":1,"t":5.5,"x":0.01,"y":0.0,"z":0.0},
      {"act":"stand","run":1,"t":6.0,"x":0.0,"y":0.05,"z":0.01},
      {"act":"stand","run":1,"t":6.5,"x":-0.05,"y":-0.1,"z":0.0},
      {"act":"stand","run":1,"t":7.0,"x":0.05,"y":-0.15,"z":0.0},
      {"act":"stand","run":1,"t":7.5,"x":-0.1,"y":0.3,"z":0.01},
      {"act":"stand","run":1,"t":8.0,"x":0.05,"y":0.1,"z":0.0},
      {"act":"stand","run":1,"t":8.5,"x":0.0,"y":0.0,"z":0.0},
      {"act":"stand","run":1,"t":9.0,"x":0.02,"y":0.04,"z":0.0},
      {"act":"stand","run":1,"t":9.5,"x":0.0,"y":0.0,"z":0.0},
      {"act":"stand","run":1,"t":10.0,"x":0.01,"y":0.03,"z":0.0},
      {"act":"stand","run":1,"t":10.5,"x":0.0,"y":0.0,"z":0.0},

      {"act":"stand","run":2,"t":0.0,"x":0.0,"y":0.05,"z":0.0},
      {"act":"stand","run":2,"t":0.25,"x":0.1,"y":0.0,"z":0.0},
      {"act":"stand","run":2,"t":0.5,"x":-0.4,"y":0.2,"z":0.0},
      {"act":"stand","run":2,"t":0.75,"x":0.05,"y":-0.1,"z":0.0},
      {"act":"stand","run":2,"t":1.0,"x":0.0,"y":0.1,"z":0.0},
      {"act":"stand","run":2,"t":1.5,"x":0.0,"y":0.0,"z":0.01},
      {"act":"stand","run":2,"t":2.0,"x":0.02,"y":0.15,"z":0.0},
      {"act":"stand","run":2,"t":2.5,"x":0.0,"y":0.0,"z":0.0},
      {"act":"stand","run":2,"t":3.0,"x":0.01,"y":0.03,"z":0.0},
      {"act":"stand","run":2,"t":4.0,"x":0.0,"y":0.02,"z":0.0},
      {"act":"stand","run":2,"t":5.0,"x":0.0,"y":0.03,"z":0.0},
      {"act":"stand","run":2,"t":6.0,"x":0.01,"y":0.02,"z":0.0},
      {"act":"stand","run":2,"t":7.0,"x":0.0,"y":0.03,"z":0.0},
      {"act":"stand","run":2,"t":8.0,"x":0.0,"y":0.02,"z":0.0},
      {"act":"stand","run":2,"t":9.0,"x":0.01,"y":0.02,"z":0.0},
      {"act":"stand","run":2,"t":10.0,"x":0.0,"y":0.02,"z":0.0},
      {"act":"stand","run":2,"t":10.5,"x":0.0,"y":0.0,"z":0.0},

      {"act":"stand","run":3,"t":0.0,"x":0.02,"y":0.03,"z":0.0},
      {"act":"stand","run":3,"t":1.0,"x":0.0,"y":0.02,"z":0.0},
      {"act":"stand","run":3,"t":2.0,"x":0.01,"y":0.0,"z":0.0},
      {"act":"stand","run":3,"t":3.0,"x":0.0,"y":0.03,"z":0.0},
      {"act":"stand","run":3,"t":4.0,"x":0.02,"y":0.0,"z":0.0},
      {"act":"stand","run":3,"t":5.0,"x":0.0,"y":0.02,"z":0.0},
      {"act":"stand","run":3,"t":6.0,"x":0.01,"y":0.0,"z":0.0},
      {"act":"stand","run":3,"t":7.0,"x":0.0,"y":0.02,"z":0.0},
      {"act":"stand","run":3,"t":8.0,"x":0.01,"y":0.0,"z":0.0},
      {"act":"stand","run":3,"t":9.0,"x":0.0,"y":0.02,"z":0.0},
      {"act":"stand","run":3,"t":10.0,"x":0.01,"y":0.0,"z":0.0},
      {"act":"stand","run":3,"t":10.5,"x":0.0,"y":0.0,"z":0.0},

      {"act":"stand","run":4,"t":0.0,"x":0.0,"y":0.0,"z":0.0},
      {"act":"stand","run":4,"t":0.5,"x":0.02,"y":0.03,"z":0.0},
      {"act":"stand","run":4,"t":1.0,"x":0.0,"y":0.05,"z":0.0},
      {"act":"stand","run":4,"t":1.5,"x":0.05,"y":-0.15,"z":0.0},
      {"act":"stand","run":4,"t":2.0,"x":0.1,"y":0.25,"z":0.0},
      {"act":"stand","run":4,"t":2.5,"x":-0.05,"y":0.1,"z":0.0},
      {"act":"stand","run":4,"t":3.0,"x":0.05,"y":-0.1,"z":0.0},
      {"act":"stand","run":4,"t":3.5,"x":0.1,"y":0.25,"z":0.0},
      {"act":"stand","run":4,"t":4.0,"x":0.0,"y":0.1,"z":0.0},
      {"act":"stand","run":4,"t":5.0,"x":0.01,"y":0.02,"z":0.0},
      {"act":"stand","run":4,"t":6.0,"x":0.0,"y":0.0,"z":0.0},
      {"act":"stand","run":4,"t":7.0,"x":0.01,"y":0.02,"z":0.0},
      {"act":"stand","run":4,"t":8.0,"x":0.0,"y":0.0,"z":0.0},
      {"act":"stand","run":4,"t":9.0,"x":0.0,"y":0.02,"z":0.0},
      {"act":"stand","run":4,"t":10.0,"x":0.0,"y":0.0,"z":0.0},
      {"act":"stand","run":4,"t":10.5,"x":0.0,"y":0.0,"z":0.0},

      {"act":"standToSit","run":1,"t":0.0,"x":-0.7,"y":0.1,"z":0.3},
      {"act":"standToSit","run":1,"t":0.15,"x":-0.2,"y":0.3,"z":0.0},
      {"act":"standToSit","run":1,"t":0.3,"x":0.1,"y":-1.2,"z":-0.3},
      {"act":"standToSit","run":1,"t":0.45,"x":0.4,"y":0.2,"z":-0.5},
      {"act":"standToSit","run":1,"t":0.6,"x":0.6,"y":0.4,"z":-0.5},
      {"act":"standToSit","run":1,"t":0.75,"x":0.5,"y":0.3,"z":-0.6},
      {"act":"standToSit","run":1,"t":0.9,"x":0.5,"y":0.2,"z":-0.5},
      {"act":"standToSit","run":1,"t":1.05,"x":0.4,"y":0.1,"z":-0.4},
      {"act":"standToSit","run":1,"t":1.2,"x":0.5,"y":0.2,"z":-0.4},
      {"act":"standToSit","run":1,"t":1.35,"x":0.1,"y":0.5,"z":-0.4},
      {"act":"standToSit","run":1,"t":1.5,"x":0.3,"y":0.4,"z":-0.3},
      {"act":"standToSit","run":1,"t":1.65,"x":0.4,"y":0.3,"z":-0.3},
      {"act":"standToSit","run":1,"t":1.8,"x":0.3,"y":0.4,"z":-0.3},
      {"act":"standToSit","run":1,"t":1.9,"x":0.2,"y":0.3,"z":-0.3},

      {"act":"standToSit","run":2,"t":0.0,"x":0.8,"y":0.0,"z":-0.6},
      {"act":"standToSit","run":2,"t":0.1,"x":1.5,"y":0.3,"z":-0.9},
      {"act":"standToSit","run":2,"t":0.2,"x":2.1,"y":0.9,"z":-1.2},
      {"act":"standToSit","run":2,"t":0.3,"x":1.3,"y":1.1,"z":-0.7},
      {"act":"standToSit","run":2,"t":0.4,"x":0.6,"y":0.3,"z":-0.4},
      {"act":"standToSit","run":2,"t":0.5,"x":0.3,"y":0.2,"z":-0.2},
      {"act":"standToSit","run":2,"t":0.6,"x":0.1,"y":0.3,"z":-0.3},
      {"act":"standToSit","run":2,"t":0.7,"x":-0.2,"y":-0.1,"z":0.0},
      {"act":"standToSit","run":2,"t":0.8,"x":-0.4,"y":-0.3,"z":0.3},
      {"act":"standToSit","run":2,"t":0.9,"x":-0.7,"y":-0.4,"z":0.2},

      {"act":"standToSit","run":3,"t":0.0,"x":0.5,"y":-0.1,"z":0.0},
      {"act":"standToSit","run":3,"t":0.15,"x":0.2,"y":-0.3,"z":-0.1},
      {"act":"standToSit","run":3,"t":0.3,"x":0.1,"y":-0.1,"z":-0.2},
      {"act":"standToSit","run":3,"t":0.45,"x":0.2,"y":0.0,"z":-0.3},
      {"act":"standToSit","run":3,"t":0.6,"x":0.3,"y":0.1,"z":-0.4},
      {"act":"standToSit","run":3,"t":0.75,"x":0.3,"y":0.2,"z":-0.4},
      {"act":"standToSit","run":3,"t":0.9,"x":0.8,"y":1.2,"z":-0.4},
      {"act":"standToSit","run":3,"t":1.0,"x":0.6,"y":0.5,"z":-0.4},
      {"act":"standToSit","run":3,"t":1.1,"x":0.0,"y":0.1,"z":-0.3},

      {"act":"standToSit","run":4,"t":0.0,"x":0.0,"y":0.0,"z":0.0},
      {"act":"standToSit","run":4,"t":0.15,"x":0.1,"y":0.2,"z":-0.4},
      {"act":"standToSit","run":4,"t":0.3,"x":0.3,"y":0.3,"z":-0.5},
      {"act":"standToSit","run":4,"t":0.45,"x":0.4,"y":0.3,"z":-0.5},
      {"act":"standToSit","run":4,"t":0.6,"x":0.5,"y":0.5,"z":-0.6},
      {"act":"standToSit","run":4,"t":0.75,"x":0.9,"y":0.6,"z":-0.7},
      {"act":"standToSit","run":4,"t":0.9,"x":0.4,"y":0.8,"z":-0.6},
      {"act":"standToSit","run":4,"t":1.05,"x":0.2,"y":0.4,"z":-0.3},
      {"act":"standToSit","run":4,"t":1.2,"x":0.1,"y":0.1,"z":0.0},

      {"act":"sit","run":1,"t":0.0,"x":0.0,"y":0.2,"z":-0.1},
      {"act":"sit","run":1,"t":0.25,"x":0.1,"y":0.35,"z":-0.05},
      {"act":"sit","run":1,"t":0.5,"x":0.05,"y":0.25,"z":0.0},
      {"act":"sit","run":1,"t":1.0,"x":0.02,"y":0.05,"z":0.0},
      {"act":"sit","run":1,"t":2.0,"x":0.0,"y":0.02,"z":0.0},
      {"act":"sit","run":1,"t":3.0,"x":0.01,"y":0.05,"z":0.0},
      {"act":"sit","run":1,"t":4.0,"x":0.0,"y":0.02,"z":0.0},
      {"act":"sit","run":1,"t":5.0,"x":0.01,"y":0.0,"z":0.0},
      {"act":"sit","run":1,"t":6.0,"x":0.0,"y":0.02,"z":0.0},
      {"act":"sit","run":1,"t":6.5,"x":0.0,"y":-0.1,"z":0.0},
      {"act":"sit","run":1,"t":7.0,"x":0.02,"y":0.0,"z":0.0},
      {"act":"sit","run":1,"t":7.5,"x":0.0,"y":0.08,"z":0.0},
      {"act":"sit","run":1,"t":8.5,"x":0.01,"y":0.0,"z":0.0},
      {"act":"sit","run":1,"t":9.5,"x":0.0,"y":0.02,"z":0.0},
      {"act":"sit","run":1,"t":10.5,"x":0.0,"y":0.0,"z":0.0},

      {"act":"sit","run":2,"t":0.0,"x":-0.5,"y":-0.3,"z":0.0},
      {"act":"sit","run":2,"t":0.1,"x":-0.3,"y":-0.2,"z":0.0},
      {"act":"sit","run":2,"t":0.3,"x":-0.1,"y":0.05,"z":0.0},
      {"act":"sit","run":2,"t":0.6,"x":0.0,"y":0.02,"z":0.0},
      {"act":"sit","run":2,"t":1.0,"x":0.0,"y":0.0,"z":0.0},
      {"act":"sit","run":2,"t":1.5,"x":0.02,"y":0.03,"z":0.0},
      {"act":"sit","run":2,"t":2.0,"x":0.0,"y":0.12,"z":0.0},
      {"act":"sit","run":2,"t":2.5,"x":0.0,"y":0.0,"z":0.0},
      {"act":"sit","run":2,"t":4.0,"x":0.01,"y":0.02,"z":0.0},
      {"act":"sit","run":2,"t":5.5,"x":0.0,"y":-0.03,"z":0.0},
      {"act":"sit","run":2,"t":7.0,"x":0.01,"y":0.02,"z":0.0},
      {"act":"sit","run":2,"t":8.5,"x":0.0,"y":0.0,"z":0.0},
      {"act":"sit","run":2,"t":10.5,"x":0.0,"y":0.0,"z":0.0},

      {"act":"sit","run":3,"t":0.0,"x":0.0,"y":0.1,"z":0.0},
      {"act":"sit","run":3,"t":0.1,"x":0.1,"y":0.4,"z":0.0},
      {"act":"sit","run":3,"t":0.3,"x":0.05,"y":0.05,"z":0.0},
      {"act":"sit","run":3,"t":0.6,"x":0.0,"y":0.02,"z":0.0},
      {"act":"sit","run":3,"t":2.0,"x":0.01,"y":0.0,"z":0.0},
      {"act":"sit","run":3,"t":4.0,"x":0.0,"y":0.02,"z":0.0},
      {"act":"sit","run":3,"t":6.0,"x":0.01,"y":0.0,"z":0.0},
      {"act":"sit","run":3,"t":8.0,"x":0.0,"y":0.01,"z":0.0},
      {"act":"sit","run":3,"t":10.5,"x":0.0,"y":0.0,"z":0.0},

      {"act":"sit","run":4,"t":0.0,"x":0.0,"y":0.02,"z":0.0},
      {"act":"sit","run":4,"t":2.0,"x":0.01,"y":0.0,"z":0.0},
      {"act":"sit","run":4,"t":4.0,"x":0.0,"y":0.01,"z":0.0},
      {"act":"sit","run":4,"t":6.0,"x":0.01,"y":0.0,"z":0.0},
      {"act":"sit","run":4,"t":8.0,"x":0.0,"y":0.01,"z":0.0},
      {"act":"sit","run":4,"t":10.5,"x":0.0,"y":0.0,"z":0.0},

      {"act":"sitToStand","run":1,"t":0.0,"x":-1.2,"y":-1.6,"z":0.6},
      {"act":"sitToStand","run":1,"t":0.1,"x":-0.5,"y":-0.1,"z":1.0},
      {"act":"sitToStand","run":1,"t":0.25,"x":-0.5,"y":-0.2,"z":0.7},
      {"act":"sitToStand","run":1,"t":0.4,"x":-0.6,"y":-0.3,"z":0.6},
      {"act":"sitToStand","run":1,"t":0.55,"x":-0.5,"y":-0.3,"z":0.5},
      {"act":"sitToStand","run":1,"t":0.7,"x":-0.4,"y":-0.4,"z":0.4},
      {"act":"sitToStand","run":1,"t":0.85,"x":-0.5,"y":-0.3,"z":0.3},
      {"act":"sitToStand","run":1,"t":1.0,"x":-0.3,"y":-0.1,"z":0.2},
      {"act":"sitToStand","run":1,"t":1.15,"x":-0.2,"y":-0.3,"z":0.0},
      {"act":"sitToStand","run":1,"t":1.3,"x":-0.4,"y":0.2,"z":0.0},

      {"act":"sitToStand","run":2,"t":0.0,"x":-0.6,"y":-0.5,"z":0.3},
      {"act":"sitToStand","run":2,"t":0.15,"x":-1.3,"y":-0.8,"z":0.8},
      {"act":"sitToStand","run":2,"t":0.3,"x":-0.8,"y":-0.5,"z":0.5},
      {"act":"sitToStand","run":2,"t":0.45,"x":-0.4,"y":-0.2,"z":0.9},
      {"act":"sitToStand","run":2,"t":0.6,"x":0.3,"y":-0.6,"z":0.2},
      {"act":"sitToStand","run":2,"t":0.75,"x":0.1,"y":0.4,"z":0.7},
      {"act":"sitToStand","run":2,"t":0.9,"x":-0.2,"y":0.1,"z":-0.3},
      {"act":"sitToStand","run":2,"t":1.05,"x":0.2,"y":-0.4,"z":0.0},
      {"act":"sitToStand","run":2,"t":1.2,"x":0.0,"y":0.3,"z":-0.1},
      {"act":"sitToStand","run":2,"t":1.35,"x":0.1,"y":-0.5,"z":0.2},
      {"act":"sitToStand","run":2,"t":1.5,"x":0.0,"y":0.2,"z":0.1},
      {"act":"sitToStand","run":2,"t":1.6,"x":0.1,"y":0.0,"z":0.1},

      {"act":"sitToStand","run":3,"t":0.0,"x":-0.5,"y":-0.2,"z":0.0},
      {"act":"sitToStand","run":3,"t":0.08,"x":-2.9,"y":-2.0,"z":0.2},
      {"act":"sitToStand","run":3,"t":0.2,"x":-0.6,"y":-0.4,"z":0.5},
      {"act":"sitToStand","run":3,"t":0.3,"x":-0.4,"y":-0.3,"z":0.7},
      {"act":"sitToStand","run":3,"t":0.45,"x":-0.5,"y":-0.4,"z":0.3},
      {"act":"sitToStand","run":3,"t":0.6,"x":-0.5,"y":-0.3,"z":0.2},
      {"act":"sitToStand","run":3,"t":0.75,"x":-0.6,"y":0.0,"z":0.3},
      {"act":"sitToStand","run":3,"t":0.9,"x":-0.5,"y":0.3,"z":0.3},

      {"act":"sitToStand","run":4,"t":0.0,"x":0.0,"y":0.0,"z":0.1},
      {"act":"sitToStand","run":4,"t":0.15,"x":-0.4,"y":-0.3,"z":0.5},
      {"act":"sitToStand","run":4,"t":0.3,"x":-0.6,"y":-0.5,"z":0.9},
      {"act":"sitToStand","run":4,"t":0.45,"x":-0.6,"y":-0.5,"z":0.5},
      {"act":"sitToStand","run":4,"t":0.6,"x":-0.4,"y":-0.3,"z":0.4},
      {"act":"sitToStand","run":4,"t":0.75,"x":-0.3,"y":-0.2,"z":0.7},
      {"act":"sitToStand","run":4,"t":0.9,"x":-0.5,"y":-0.4,"z":0.6},
      {"act":"sitToStand","run":4,"t":1.05,"x":-0.3,"y":-0.1,"z":0.3},
      {"act":"sitToStand","run":4,"t":1.2,"x":-0.4,"y":-0.3,"z":0.1},
      {"act":"sitToStand","run":4,"t":1.35,"x":0.0,"y":0.1,"z":0.2}
    ]
  },
  "transform": [{"fold": ["x", "y", "z"], "as": ["Axis", "value"]}],
  "facet": {
    "row": {
      "field": "act", "type": "nominal",
      "sort": ["walk", "stairUp", "stairDown", "stand", "standToSit", "sit", "sitToStand"],
      "title": "Angular velocity (radians/second)",
      "header": {"labels": false, "titlePadding": -8}
    },
    "column": {
      "field": "run", "type": "ordinal",
      "title": "Time elapsed (seconds)",
      "header": {"labels": false, "titleOrient": "bottom", "titlePadding": -6}
    }
  },
  "spacing": {"row": 4.3, "column": 5},
  "spec": {
    "width": 146.7,
    "height": 61,
    "layer": [
      {
        "mark": {"type": "line", "strokeWidth": 1.3},
        "encoding": {
          "x": {
            "field": "t", "type": "quantitative",
            "scale": {"domain": [-0.52, 10.52], "nice": false, "zero": false},
            "axis": {
              "title": null,
              "values": [0, 1.25, 2.5, 3.75, 5, 6.25, 7.5, 8.75, 10],
              "tickCount": 30,
              "format": ".1f",
              "labelOverlap": false,
              "labelExpr": "datum.value % 2.5 == 0 ? datum.label : ''",
              "gridWidth": {"condition": {"test": "datum.value % 2.5 != 0", "value": 0.6}, "value": 1.2},
              "tickOpacity": {"condition": {"test": "datum.value % 2.5 != 0", "value": 0}, "value": 1}
            }
          },
          "y": {
            "field": "value", "type": "quantitative",
            "scale": {"domain": [-4.51, 5.72], "nice": false, "zero": false},
            "axis": {
              "title": null,
              "values": [-3.75, -2.5, -1.25, 0, 1.25, 2.5, 3.75, 5],
              "tickCount": 30,
              "format": ".1f",
              "labelOverlap": false,
              "labelExpr": "datum.value % 2.5 == 0 ? datum.label : ''",
              "gridWidth": {"condition": {"test": "datum.value % 2.5 != 0", "value": 0.6}, "value": 1.2},
              "tickOpacity": {"condition": {"test": "datum.value % 2.5 != 0", "value": 0}, "value": 1}
            }
          },
          "color": {
            "field": "Axis", "type": "nominal",
            "scale": {"domain": ["x", "y", "z"], "range": ["#F8766D", "#00BA38", "#619CFF"]},
            "legend": {
              "orient": "none", "legendX": 634, "legendY": 193,
              "symbolType": "stroke", "symbolSize": 225, "symbolStrokeWidth": 1.3,
              "labelFontSize": 8.8, "labelColor": "#1A1A1A", "labelOffset": 7,
              "titleFontSize": 11, "titleFontWeight": "normal", "titleColor": "#000000",
              "titlePadding": 5.5, "rowPadding": 1.5
            }
          }
        }
      },
      {
        "transform": [
          {"filter": "datum.act == 'walk'"},
          {"aggregate": [{"op": "count", "as": "n"}], "groupby": ["act", "run"]}
        ],
        "mark": {"type": "rect", "fill": "#D9D9D9"},
        "encoding": {
          "x": {"datum": -0.52}, "x2": {"datum": 10.52},
          "y": {"datum": 5.89}, "y2": {"datum": 8.57}
        }
      },
      {
        "transform": [
          {"filter": "datum.act == 'walk'"},
          {"aggregate": [{"op": "count", "as": "n"}], "groupby": ["act", "run"]}
        ],
        "mark": {"type": "text", "fontSize": 8.8, "color": "#1A1A1A", "font": "Liberation Sans", "baseline": "middle"},
        "encoding": {
          "x": {"datum": 5.0}, "y": {"datum": 7.23},
          "text": {"field": "run"}
        }
      },
      {
        "transform": [
          {"filter": "datum.run == 4"},
          {"aggregate": [{"op": "count", "as": "n"}], "groupby": ["act", "run"]}
        ],
        "mark": {"type": "rect", "fill": "#D9D9D9"},
        "encoding": {
          "x": {"datum": 10.6}, "x2": {"datum": 11.84},
          "y": {"datum": -4.51}, "y2": {"datum": 5.72}
        }
      },
      {
        "transform": [
          {"filter": "datum.run == 4"},
          {"aggregate": [{"op": "count", "as": "n"}], "groupby": ["act", "run"]}
        ],
        "mark": {"type": "text", "fontSize": 8.8, "color": "#1A1A1A", "font": "Liberation Sans", "angle": 90, "baseline": "middle"},
        "encoding": {
          "x": {"datum": 11.22}, "y": {"datum": 0.6},
          "text": {"field": "act"}
        }
      }
    ]
  },
  "config": {
    "font": "Liberation Sans",
    "view": {"fill": "#EBEBEB", "stroke": null},
    "axis": {
      "domain": false,
      "gridColor": "#FFFFFF",
      "tickColor": "#333333",
      "tickSize": 2.75,
      "labelColor": "#4D4D4D",
      "labelFontSize": 8.8,
      "labelPadding": 2.2,
      "labelFlush": false,
      "labelOverlap": false,
      "labelFont": "Liberation Sans"
    },
    "header": {
      "titleFont": "Liberation Sans",
      "titleFontSize": 11,
      "titleFontWeight": "normal",
      "titleColor": "#000000"
    },
    "legend": {"labelFont": "Liberation Sans", "titleFont": "Liberation Sans"}
  }
}
